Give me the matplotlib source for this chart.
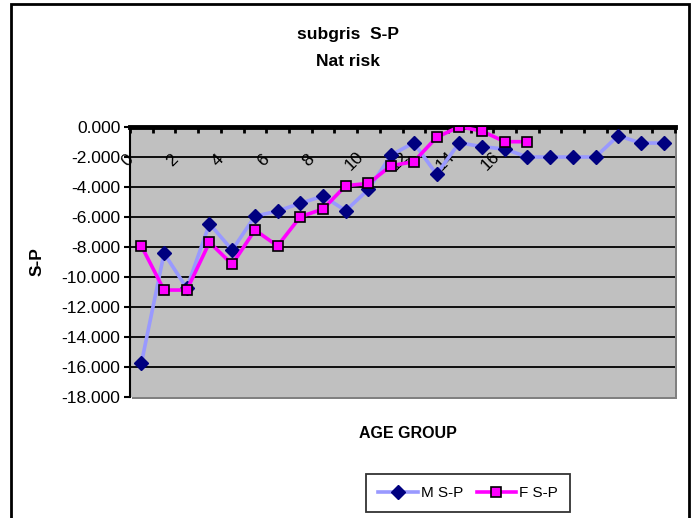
import matplotlib
matplotlib.use("Agg")
import matplotlib.pyplot as plt
from matplotlib.patches import Rectangle
import numpy as np

plt.rcParams['font.family'] = ['Liberation Sans', 'DejaVu Sans']

categories = [str(i) for i in range(24)]
m_sp = [-15.75, -8.42, -10.75, -6.45, -8.2, -5.95, -5.6, -5.09, -4.6, -5.58, -4.16, -1.87,
        -1.05, -3.15, -1.05, -1.31, -1.47, -2.0, -2.0, -2.0, -2.0, -0.58, -1.07, -1.07]
f_sp = [-7.93, -10.87, -10.87, -7.69, -9.16, -6.87, -7.93, -5.98, -5.47, -3.91, -3.76, -2.58,
        -2.31, -0.69, 0.02, -0.27, -0.98, -0.98]
tick_labels = [str(i) if (i % 2 == 0 and i <= 16) else "" for i in range(24)]
y_ticks = [0, -2, -4, -6, -8, -10, -12, -14, -16, -18]

W, H = 696, 518
fig = plt.figure(figsize=(W / 100, H / 100), dpi=100)
fig.patch.set_facecolor('white')

# outer chart border
fig.add_artist(Rectangle((11 / W, -0.01), (689 - 11) / W, (518 - 4) / H + 0.01,
                         transform=fig.transFigure, fill=False, edgecolor='black', lw=2))

L, R, T, B = 130, 675, 127, 397
ax = fig.add_axes([L / W, 1 - B / H, (R - L) / W, (B - T) / H])

# shadow of plot area
fig.add_artist(Rectangle(((L + 2) / W, 1 - (B + 2) / H), (R - L) / W, (B - T) / H,
                         transform=fig.transFigure, facecolor='#808080', edgecolor='none', zorder=0))
ax.set_facecolor('#c0c0c0')
ax.set_zorder(1)

x = np.arange(len(categories))
ax.set_xlim(-0.5, len(categories) - 0.5)
ax.set_ylim(-18, 0)

for yv in y_ticks[1:-1]:
    ax.axhline(yv, color='black', lw=1.3, zorder=1)

ax.plot(x[:len(m_sp)], m_sp, color='#9999ff', lw=2.6, marker='D', markersize=7,
        markerfacecolor='#000080', markeredgecolor='#000080', label='M S-P', zorder=3)
ax.plot(x[:len(f_sp)], f_sp, color='#ff00ff', lw=2.6, marker='s', markersize=7,
        markerfacecolor='#ff00ff', markeredgecolor='black', markeredgewidth=1.2,
        label='F S-P', zorder=4)

# spines
for s in ['right', 'bottom']:
    ax.spines[s].set_visible(False)
ax.spines['left'].set_color('black')
ax.spines['left'].set_linewidth(1.5)
ax.spines['top'].set_color('black')
ax.spines['top'].set_linewidth(3.5)

ax.set_yticks(y_ticks)
ax.set_yticklabels([f"{v:.3f}" for v in y_ticks], fontsize=12.5)
ax.tick_params(axis='y', direction='out', length=4, width=1.5, pad=3)

# category ticks at top spine (between categories)
ax.set_xticks(np.arange(-0.5, len(categories), 1.0), minor=True)
ax.tick_params(axis='x', which='minor', direction='in', length=4, width=2, top=True, bottom=False)
ax.set_xticks([])
for i, lab in enumerate(tick_labels):
    if lab:
        ax.text(i - 0.62, -2.25, lab, rotation=45, ha='center', va='center',
                rotation_mode='anchor', fontsize=12.5, zorder=2)

ax.set_ylabel('S-P', fontsize=12.5, fontweight='bold', labelpad=12)
fig.text(408 / W, 1 - 433 / H, 'AGE GROUP', ha='center', va='center', fontsize=11.5,
         fontweight='bold')
fig.text(348 / W, 1 - 34 / H, 'subgris  S-P', ha='center', va='center', fontsize=12.5,
         fontweight='bold')
fig.text(348 / W, 1 - 61 / H, 'Nat risk', ha='center', va='center', fontsize=12.5,
         fontweight='bold')

leg = fig.legend(loc='center', bbox_to_anchor=(468 / W, 1 - 493 / H), ncol=2, frameon=True,
                 fancybox=False, edgecolor='black', fontsize=11, handlelength=2.6,
                 columnspacing=0.9, borderpad=0.8, handletextpad=0.2)
leg.get_frame().set_linewidth(1.3)

fig.savefig('out.png', dpi=100, facecolor='white')
